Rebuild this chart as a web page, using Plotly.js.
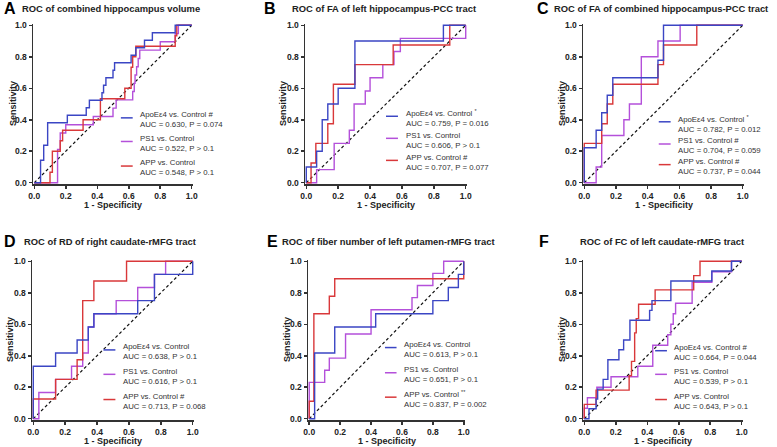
<!DOCTYPE html>
<html>
<head>
<meta charset="utf-8">
<script src="https://cdn.plot.ly/plotly-3.0.1.min.js"></script>
<style>html,body{margin:0;padding:0;background:#fff;}#chart{width:777px;height:447px;}</style>
</head>
<body>
<div id="chart"></div>
<script>
// ---------- data (1 - specificity, sensitivity), step points ----------
const diagX = [0, 1], diagY = [0, 1];

const A_apoe_x = [0, 0.04, 0.06, 0.085, 0.21, 0.33, 0.35, 0.43, 0.44, 0.455, 0.5, 0.51, 0.615, 0.645, 0.70, 0.75, 0.895, 1];
const A_apoe_y = [0, 0.143, 0.238, 0.381, 0.429, 0.476, 0.524, 0.571, 0.619, 0.667, 0.714, 0.762, 0.810, 0.857, 0.905, 0.952, 1, 1];
const A_ps1_x = [0, 0.148, 0.165, 0.2, 0.375, 0.5, 0.52, 0.625, 0.635, 0.64, 0.65, 0.66, 0.67, 0.8, 0.895, 0.915, 1];
const A_ps1_y = [0, 0.211, 0.316, 0.368, 0.421, 0.474, 0.526, 0.579, 0.632, 0.684, 0.737, 0.789, 0.842, 0.895, 0.947, 1, 1];
const A_app_x = [0, 0.1, 0.115, 0.165, 0.18, 0.31, 0.42, 0.575, 0.615, 0.625, 0.645, 0.895, 0.905, 1];
const A_app_y = [0, 0.067, 0.2, 0.267, 0.333, 0.4, 0.533, 0.6, 0.733, 0.8, 0.867, 0.933, 1, 1];

const B_apoe_x = [0, 0, 0.065, 0.1, 0.135, 0.2, 0.305, 0.86, 1];
const B_apoe_y = [0, 0.1, 0.2, 0.4, 0.5, 0.6, 0.9, 1, 1];
const B_ps1_x = [0, 0.065, 0.175, 0.27, 0.3, 0.37, 0.4, 0.48, 0.55, 0.59, 1];
const B_ps1_y = [0, 0.083, 0.25, 0.333, 0.5, 0.583, 0.667, 0.75, 0.833, 0.917, 1];
const B_app_x = [0, 0.03, 0.06, 0.135, 0.17, 0.305, 0.545, 0.9, 1];
const B_app_y = [0, 0.125, 0.25, 0.375, 0.625, 0.75, 0.875, 1, 1];

const C_apoe_x = [0, 0, 0.075, 0.11, 0.145, 0.18, 0.465, 0.5, 1];
const C_apoe_y = [0, 0.222, 0.333, 0.444, 0.556, 0.667, 0.778, 1, 1];
const C_ps1_x = [0, 0.075, 0.11, 0.25, 0.285, 0.36, 0.465, 0.605, 1];
const C_ps1_y = [0, 0.1, 0.3, 0.4, 0.5, 0.8, 0.9, 1, 1];
const C_app_x = [0, 0, 0.11, 0.145, 0.18, 0.465, 0.5, 0.71, 1];
const C_app_y = [0, 0.25, 0.375, 0.5, 0.625, 0.75, 0.875, 1, 1];

const D_apoe_x = [0, 0, 0.14, 0.275, 0.345, 0.38, 0.655, 0.76, 1];
const D_apoe_y = [0, 0.333, 0.417, 0.5, 0.583, 0.667, 0.75, 0.917, 1];
const D_ps1_x = [0, 0.035, 0.14, 0.24, 0.31, 0.345, 0.38, 0.52, 0.655, 0.76, 0.83, 1];
const D_ps1_y = [0, 0.167, 0.25, 0.333, 0.417, 0.583, 0.667, 0.75, 0.833, 0.917, 1, 1];
const D_app_x = [0, 0, 0.14, 0.275, 0.31, 0.38, 0.585, 1];
const D_app_y = [0, 0.125, 0.25, 0.375, 0.75, 0.875, 1, 1];

const E_apoe_x = [0, 0.035, 0.165, 0.43, 0.8, 0.9, 0.965, 1];
const E_apoe_y = [0, 0.417, 0.583, 0.667, 0.75, 0.833, 0.917, 1];
const E_ps1_x = [0, 0, 0.1, 0.13, 0.235, 0.4, 0.665, 0.7, 0.8, 0.87, 1];
const E_ps1_y = [0, 0.231, 0.308, 0.385, 0.538, 0.692, 0.769, 0.846, 0.923, 1, 1];
const E_app_x = [0, 0, 0.03, 0.13, 0.165, 1];
const E_app_y = [0, 0.111, 0.667, 0.778, 0.889, 1];

const F_apoe_x = [0, 0.03, 0.075, 0.085, 0.12, 0.15, 0.22, 0.25, 0.29, 0.415, 0.43, 0.55, 0.81, 0.935, 1];
const F_apoe_y = [0, 0.063, 0.125, 0.188, 0.25, 0.375, 0.438, 0.5, 0.625, 0.688, 0.75, 0.875, 0.938, 1, 1];
const F_ps1_x = [0, 0, 0.02, 0.08, 0.17, 0.34, 0.435, 0.53, 0.55, 0.565, 0.58, 0.685, 0.81, 0.935, 1];
const F_ps1_y = [0, 0.067, 0.133, 0.2, 0.267, 0.333, 0.467, 0.533, 0.6, 0.667, 0.733, 0.867, 0.933, 1, 1];
const F_app_x = [0, 0, 0.075, 0.285, 0.3, 0.32, 0.33, 0.345, 0.45, 0.695, 0.735, 1];
const F_app_y = [0, 0.091, 0.182, 0.273, 0.364, 0.545, 0.636, 0.727, 0.818, 0.909, 1, 1];

// ---------- labels ----------
const panelLetters = ['A', 'B', 'C', 'D', 'E', 'F'];
const panelTitles = [
  'ROC of combined hippocampus volume',
  'ROC of FA of left hippocampus-PCC tract',
  'ROC of FA of combined hippocampus-PCC tract',
  'ROC of RD of right caudate-rMFG tract',
  'ROC of fiber number of left putamen-rMFG tract',
  'ROC of FC of left caudate-rMFG tract'
];
const groupNames = ['ApoEε4 vs. Control', 'PS1 vs. Control', 'APP vs. Control'];
const sigMarks = [
  [' #', '', ''],
  [' <sup>*</sup>', '', ' #'],
  [' <sup>*</sup>', ' #', ' #'],
  ['', '', ' #'],
  ['', '', ' <sup>**</sup>'],
  [' #', '', '']
];
const aucValues = [
  ['0.630', '0.522', '0.548'],
  ['0.759', '0.606', '0.707'],
  ['0.782', '0.704', '0.737'],
  ['0.638', '0.616', '0.713'],
  ['0.613', '0.651', '0.837'],
  ['0.664', '0.539', '0.643']
];
const pValues = [
  ['= 0.074', '&gt; 0.1', '&gt; 0.1'],
  ['= 0.016', '&gt; 0.1', '= 0.077'],
  ['= 0.012', '= 0.059', '= 0.044'],
  ['&gt; 0.1', '&gt; 0.1', '= 0.068'],
  ['&gt; 0.1', '&gt; 0.1', '= 0.002'],
  ['= 0.044', '&gt; 0.1', '&gt; 0.1']
];
const tickVals = [0, 0.2, 0.4, 0.6, 0.8, 1.0];
const tickLabels = ['0.0', '0.2', '0.4', '0.6', '0.8', '1.0'];

// ---------- styling / layout geometry ----------
const W = 777, H = 447;
const FONT = 'Liberation Sans, Arial, Helvetica, sans-serif';
const colors = ['#3b46c4', '#b450da', '#d9383a']; // ApoE, PS1, APP
const curves = [
  [[A_apoe_x, A_apoe_y], [A_ps1_x, A_ps1_y], [A_app_x, A_app_y]],
  [[B_apoe_x, B_apoe_y], [B_ps1_x, B_ps1_y], [B_app_x, B_app_y]],
  [[C_apoe_x, C_apoe_y], [C_ps1_x, C_ps1_y], [C_app_x, C_app_y]],
  [[D_apoe_x, D_apoe_y], [D_ps1_x, D_ps1_y], [D_app_x, D_app_y]],
  [[E_apoe_x, E_apoe_y], [E_ps1_x, E_ps1_y], [E_app_x, E_app_y]],
  [[F_apoe_x, F_apoe_y], [F_ps1_x, F_ps1_y], [F_app_x, F_app_y]]
];
// plot boxes in pixels [left, right, top, bottom]
const boxes = [
  [33, 193, 24, 184], [305, 467, 24, 184], [583, 744, 24, 184],
  [32, 194, 260, 420], [308, 465, 260, 420], [583, 743, 260, 420]
];
// title placement (px): letter x, title x, title anchor, y
const titlePos = [
  [2, 20, 'left', 8], [262, 290, 'left', 8], [535, 552, 'left', 8],
  [2, 22, 'left', 242], [265, 280, 'left', 242], [537, 662, 'center', 242]
];
const yTitleX = [13, 283, 562, 10, 287, 562];
// legend placement in data units: sample x0, x1, text x, group y centres
const legendPos = [
  [0.55, 0.625, 0.656, [0.40, 0.25, 0.094]],
  [0.50, 0.575, 0.61, [0.41, 0.27, 0.13]],
  [0.47, 0.545, 0.58, [0.375, 0.234, 0.103]],
  [0.44, 0.515, 0.55, [0.425, 0.27, 0.11]],
  [0.49, 0.565, 0.60, [0.44, 0.28, 0.125]],
  [0.45, 0.525, 0.556, [0.42, 0.27, 0.11]]
];

const data = [];
const layout = {
  width: W, height: H, autosize: false,
  margin: {l: 0, r: 0, t: 0, b: 0},
  paper_bgcolor: '#ffffff', plot_bgcolor: 'rgba(0,0,0,0)',
  showlegend: false,
  font: {family: FONT, color: '#222'},
  annotations: [], shapes: []
};

const pxX = v => v / W;
const pxY = v => 1 - v / H;

for (let p = 0; p < 6; p++) {
  const n = p + 1;
  const xa = 'x' + (n === 1 ? '' : n), ya = 'y' + (n === 1 ? '' : n);
  const xKey = 'xaxis' + (n === 1 ? '' : n), yKey = 'yaxis' + (n === 1 ? '' : n);
  const [l, r, t, b] = boxes[p];
  const pad = 0.008;
  const axisCommon = {
    range: [-pad, 1 + pad], tickmode: 'array', tickvals: tickVals, ticktext: tickLabels,
    ticks: 'outside', ticklen: 3, tickwidth: 1.5, tickcolor: '#333',
    showline: true, linecolor: '#333', linewidth: 1.5,
    showgrid: false, zeroline: false, fixedrange: true,
    tickfont: {family: FONT, size: 8.5, color: '#222', weight: 'bold'}
  };
  layout[xKey] = Object.assign({}, axisCommon, {domain: [pxX(l), pxX(r)], anchor: ya});
  layout[yKey] = Object.assign({}, axisCommon, {domain: [pxY(b), pxY(t)], anchor: xa});

  // diagonal reference
  data.push({x: diagX, y: diagY, xaxis: xa, yaxis: ya, mode: 'lines',
    line: {color: '#111', width: 1.2, dash: '3px,2.5px'}, hoverinfo: 'skip'});
  // curves: PS1, APP, ApoE drawing order
  [1, 2, 0].forEach(g => {
    data.push({x: curves[p][g][0], y: curves[p][g][1], xaxis: xa, yaxis: ya,
      mode: 'lines', line: {color: colors[g], width: 1.4, shape: 'hv'},
      name: groupNames[g]});
  });

  // legend
  const [sx0, sx1, tx, ys] = legendPos[p];
  for (let g = 0; g < 3; g++) {
    layout.shapes.push({type: 'line', xref: xa, yref: ya, x0: sx0, x1: sx1,
      y0: ys[g] + 0.012, y1: ys[g] + 0.012, line: {color: colors[g], width: 1.5}});
    layout.annotations.push({xref: xa, yref: ya, x: tx, y: ys[g], xanchor: 'left', yanchor: 'middle',
      align: 'left', showarrow: false,
      text: groupNames[g] + sigMarks[p][g] + '<br>AUC = ' + aucValues[p][g] + ', P ' + pValues[p][g],
      font: {family: FONT, size: 7.8, color: '#333'}});
  }

  // panel letter + title
  const [lx, tx2, tanchor, ty] = titlePos[p];
  layout.annotations.push({xref: 'paper', yref: 'paper', x: pxX(lx), y: pxY(ty), xanchor: 'left', yanchor: 'middle',
    showarrow: false, text: '<b>' + panelLetters[p] + '</b>', font: {family: FONT, size: 16, color: '#000'}});
  layout.annotations.push({xref: 'paper', yref: 'paper', x: pxX(tx2), y: pxY(ty), xanchor: tanchor, yanchor: 'middle',
    showarrow: false, text: '<b>' + panelTitles[p] + '</b>', font: {family: FONT, size: 9.4, color: '#222'}});

  // axis titles
  layout.annotations.push({xref: 'paper', yref: 'paper', x: pxX((l + r) / 2), y: pxY(b + 21), xanchor: 'center', yanchor: 'middle',
    showarrow: false, text: '<b>1 - Specificity</b>', font: {family: FONT, size: 9, color: '#222'}});
  layout.annotations.push({xref: 'paper', yref: 'paper', x: pxX(yTitleX[p]), y: pxY((t + b) / 2), xanchor: 'center', yanchor: 'middle',
    textangle: -90, showarrow: false, text: '<b>Sensitivity</b>', font: {family: FONT, size: 9, color: '#222'}});
}

Plotly.newPlot('chart', data, layout, {staticPlot: true, displayModeBar: false});
</script>
</body>
</html>
